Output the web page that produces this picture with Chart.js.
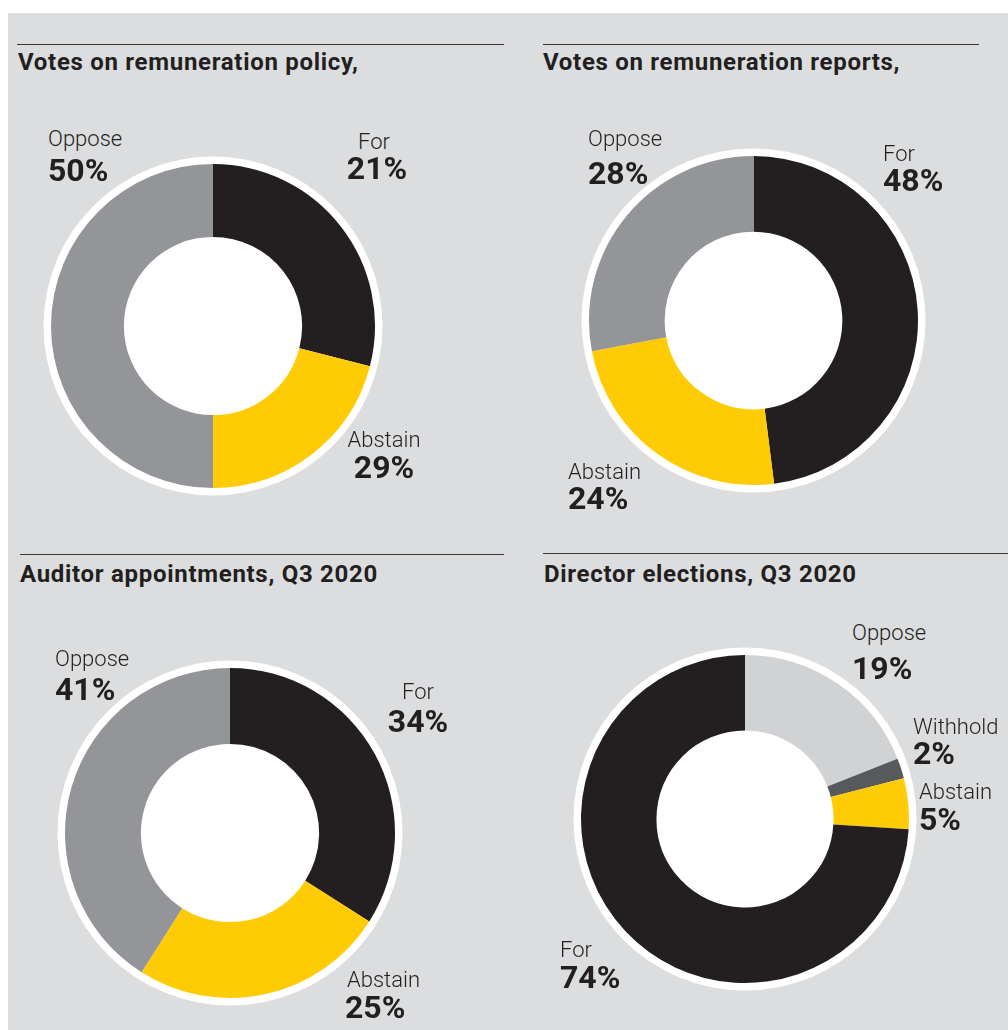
<!DOCTYPE html>
<html>
<head>
<meta charset="utf-8">
<script src="https://cdn.jsdelivr.net/npm/chart.js@4.4.0/dist/chart.umd.min.js"></script>
<style>
  html, body { margin: 0; padding: 0; background: #fff; }
  #page { position: relative; width: 1008px; height: 1030px; overflow: hidden; }
  #panel { position: absolute; left: 8px; top: 13px; right: 0; bottom: 0; background: #dcdddf; }
  canvas { position: absolute; }
  .rule { position: absolute; height: 1px; background: #3a3839; }
  .txt { position: absolute; font-family: Roboto, "Open Sans", sans-serif; color: #231f20; white-space: nowrap; line-height: 1; }
  .title { font-weight: 700; font-size: 24px; letter-spacing: 0.7px; }
  .name { font-weight: 300; font-size: 22px; }
  .pct { font-weight: 700; font-size: 32px; }
</style>
</head>
<body>
<div id="page"><div id="panel"></div></div>
<script>
// values as drawn in the slices
const policyLabels = ['For', 'Abstain', 'Oppose'];
const policyValues = [29, 21, 50];
// the source prints these figures next to the slices
const policyPrinted = ['21%', '29%', '50%'];

const reportLabels = ['For', 'Abstain', 'Oppose'];
const reportValues = [48, 24, 28];

const auditorLabels = ['For', 'Abstain', 'Oppose'];
const auditorValues = [34, 25, 41];

const directorLabels = ['Oppose', 'Withhold', 'Abstain', 'For'];
const directorValues = [19, 2, 5, 74];

const BLACK = '#231f20', YELLOW = '#ffcb05', GREY = '#939598', LIGHT = '#d1d2d4', DARK = '#58595b';
const SIZES = { title: 24, name: 22, pct: 32 };

const page = document.getElementById('page');

function addText(cls, str, x, baseline, align) {
  const d = document.createElement('div');
  d.className = 'txt ' + cls;
  d.textContent = str;
  d.style.top = (baseline - 0.8415 * SIZES[cls]) + 'px';
  if (align === 'center') {
    d.style.left = (x - 100) + 'px';
    d.style.width = '200px';
    d.style.textAlign = 'center';
  } else {
    d.style.left = x + 'px';
  }
  page.appendChild(d);
}

function addRule(x1, x2, y) {
  const d = document.createElement('div');
  d.className = 'rule';
  d.style.left = x1 + 'px';
  d.style.width = (x2 - x1) + 'px';
  d.style.top = y + 'px';
  page.appendChild(d);
}

// white ring around each doughnut, drawn under the slices
const ringPlugin = {
  id: 'ring',
  beforeDatasetsDraw(chart) {
    const arc = chart.getDatasetMeta(0).data[0];
    if (!arc) return;
    const ctx = chart.ctx;
    ctx.save();
    ctx.fillStyle = '#fff';
    ctx.beginPath();
    ctx.arc(arc.x, arc.y, arc.outerRadius + 7.5, 0, Math.PI * 2);
    ctx.fill();
    ctx.restore();
  }
};

function donut(cx, cy, radius, cutout, labels, values, colors) {
  const size = 2 * (radius + 9);
  const c = document.createElement('canvas');
  c.width = size;
  c.height = size;
  c.style.left = (cx - size / 2) + 'px';
  c.style.top = (cy - size / 2) + 'px';
  c.style.width = size + 'px';
  c.style.height = size + 'px';
  page.appendChild(c);
  new Chart(c.getContext('2d'), {
    type: 'doughnut',
    data: {
      labels: labels,
      datasets: [{ data: values, backgroundColor: colors, borderWidth: 0 }]
    },
    options: {
      responsive: false,
      animation: false,
      events: [],
      cutout: cutout,
      layout: { padding: 9 },
      plugins: { legend: { display: false }, tooltip: { enabled: false } }
    },
    plugins: [ringPlugin]
  });
}

// titles and rules
addRule(17, 504, 44);
addRule(543, 979, 44);
addRule(20, 504, 554);
addRule(543, 1008, 553);
addText('title', 'Votes on remuneration policy,', 18, 70);
addText('title', 'Votes on remuneration reports,', 543, 70);
addText('title', 'Auditor appointments, Q3 2020', 20, 582);
addText('title', 'Director elections, Q3 2020', 544, 582);

donut(213, 325.5, 162, '55%', policyLabels, policyValues, [BLACK, YELLOW, GREY]);
donut(753.5, 320, 164.5, '54%', reportLabels, reportValues, [BLACK, YELLOW, GREY]);
donut(230, 833, 165, '54%', auditorLabels, auditorValues, [BLACK, YELLOW, GREY]);
donut(745, 819, 164, '54%', directorLabels, directorValues, [LIGHT, DARK, YELLOW, BLACK]);

const pct = v => v + '%';

// chart 1 labels
addText('name', policyLabels[2], 48, 147);
addText('pct', policyPrinted[2], 48, 181);
addText('name', policyLabels[0], 374, 150, 'center');
addText('pct', policyPrinted[0], 377, 179, 'center');
addText('name', policyLabels[1], 384, 448, 'center');
addText('pct', policyPrinted[1], 384, 478, 'center');

// chart 2 labels
addText('name', reportLabels[2], 588, 147);
addText('pct', pct(reportValues[2]), 588, 184);
addText('name', reportLabels[0], 883, 162);
addText('pct', pct(reportValues[0]), 883, 191);
addText('name', reportLabels[1], 568, 480);
addText('pct', pct(reportValues[1]), 568, 509);

// chart 3 labels
addText('name', auditorLabels[2], 55, 667);
addText('pct', pct(auditorValues[2]), 55, 700);
addText('name', auditorLabels[0], 418, 700, 'center');
addText('pct', pct(auditorValues[0]), 418, 732, 'center');
addText('name', auditorLabels[1], 347, 988);
addText('pct', pct(auditorValues[1]), 345, 1018);

// chart 4 labels
addText('name', directorLabels[0], 852, 641);
addText('pct', pct(directorValues[0]), 852, 679);
addText('name', directorLabels[1], 913, 735);
addText('pct', pct(directorValues[1]), 913, 764);
addText('name', directorLabels[2], 919, 800);
addText('pct', pct(directorValues[2]), 919, 830);
addText('name', directorLabels[3], 560, 958);
addText('pct', pct(directorValues[3]), 560, 988);
</script>
</body>
</html>
